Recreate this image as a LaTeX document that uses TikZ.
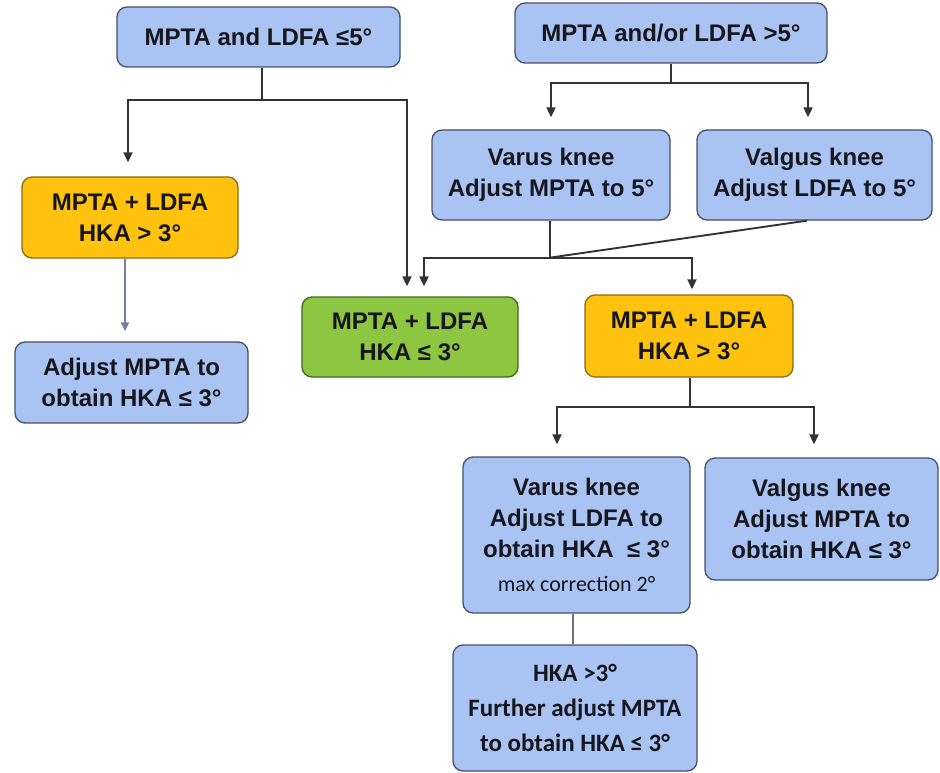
\documentclass[tikz,border=0pt]{standalone}
\usepackage{fontspec}
\setmainfont{Liberation Sans}
\newfontfamily\calibfont{Carlito}
\usetikzlibrary{arrows.meta}

\definecolor{boxblue}{HTML}{A9C4F2}
\definecolor{boxyellow}{HTML}{FFC20E}
\definecolor{boxgreen}{HTML}{8DC640}
\definecolor{edgeblue}{HTML}{44506A}
\definecolor{edgeyellow}{HTML}{8A6A12}
\definecolor{edgegreen}{HTML}{3E6A1E}
\definecolor{ink}{HTML}{16161E}
\definecolor{linkgrey}{HTML}{333333}
\definecolor{stemgrey}{HTML}{707070}
\definecolor{linkblue}{HTML}{7080A8}

\begin{document}
\begin{tikzpicture}[x=1pt,y=-1pt,
  box/.style={line width=1.3pt, rounded corners=10pt, inner sep=0pt,
    align=center, text=ink, font=\fontsize{24}{31}\selectfont\bfseries},
  bluebox/.style={box, draw=edgeblue, fill=boxblue},
  yellowbox/.style={box, draw=edgeyellow, fill=boxyellow},
  greenbox/.style={box, draw=edgegreen, fill=boxgreen},
  link/.style={draw=linkgrey, line width=1.9pt},
  arrowlink/.style={link, -{Triangle[width=9pt,length=10pt]}}
]
\useasboundingbox (0,0) rectangle (940,773);

% ---- boxes ----
\node[bluebox, minimum width=283pt, minimum height=60pt] (A) at (258.5,37)
  {MPTA and LDFA ≤5°};
\node[bluebox, minimum width=312pt, minimum height=60pt] (B) at (671,33)
  {MPTA and/or LDFA >5°};
\node[bluebox, minimum width=238pt, minimum height=90pt] (C) at (551,175)
  {Varus knee\\Adjust MPTA to 5°};
\node[bluebox, minimum width=235pt, minimum height=90pt] (D) at (814.5,175)
  {Valgus knee\\Adjust LDFA to 5°};
\node[yellowbox, minimum width=216pt, minimum height=81pt] (E) at (130,217.5)
  {MPTA + LDFA\\HKA > 3°};
\node[bluebox, minimum width=233pt, minimum height=81pt] (F) at (131.5,382.5)
  {Adjust MPTA to\\obtain HKA ≤ 3°};
\node[greenbox, minimum width=216pt, minimum height=80pt] (G) at (410,337)
  {MPTA + LDFA\\HKA ≤ 3°};
\node[yellowbox, minimum width=208pt, minimum height=82pt] (H) at (689,336)
  {MPTA + LDFA\\HKA > 3°};
\node[bluebox, minimum width=227pt, minimum height=156pt] (I) at (576.5,535)
  {Varus knee\\Adjust LDFA to\\obtain HKA \ ≤ 3°\\[3pt]
   {\calibfont\mdseries\fontsize{22}{26}\selectfont max correction 2°}};
\node[bluebox, minimum width=233pt, minimum height=122pt] (J) at (821.5,519)
  {Valgus knee\\Adjust MPTA to\\obtain HKA ≤ 3°};
\node[bluebox, minimum width=244pt, minimum height=126pt,
      font=\calibfont\bfseries\fontsize{25}{35}\selectfont] (K) at (575,708)
  {HKA >3°\\Further adjust MPTA\\to obtain HKA ≤ 3°};

% ---- connectors ----
% from the top-left box
\draw[link] ([xshift=3.5pt]A.south) -- ++(0,32) coordinate (aJ);
\draw[arrowlink, shorten >=14pt] (aJ) -| ([xshift=-2pt]E.north);
\draw[arrowlink, shorten >=10pt] (aJ) -| ([xshift=-3pt]G.north);

% from the top-right box
\draw[link] (B.south) -- ++(0,19) coordinate (bJ);
\draw[arrowlink, shorten >=12pt] (bJ) -| (C.north);
\draw[arrowlink, shorten >=12pt] (bJ) -| ([xshift=-6.5pt]D.north);

% varus / valgus adjustment joining
\draw[link] ([xshift=-1pt]C.south) -- ++(0,37) coordinate (cJ);
\draw[link] ([xshift=-7.5pt]D.south) -- (cJ);
\draw[arrowlink, shorten >=10pt] (cJ) -| ([xshift=14pt]G.north);
\draw[arrowlink, shorten >=5pt] (cJ) -| ([xshift=3pt]H.north);

% left column
\draw[link, draw=linkblue, line width=1.5pt,
      -{Triangle[width=8pt,length=9pt]}, shorten >=10pt]
  ([xshift=-5pt]E.south) -- ([xshift=-6.5pt]F.north);

% from the right HKA > 3 box
\draw[link] ([xshift=1pt]H.south) -- ++(0,29) coordinate (hJ);
\draw[arrowlink, shorten >=12pt] (hJ) -| ([xshift=-19.5pt]I.north);
\draw[arrowlink, shorten >=13pt] (hJ) -| ([xshift=-7.5pt]J.north);

% varus knee to further adjustment
\draw[link, draw=stemgrey] ([xshift=-3.5pt]I.south) -- ([xshift=-2pt]K.north);
\end{tikzpicture}
\end{document}
